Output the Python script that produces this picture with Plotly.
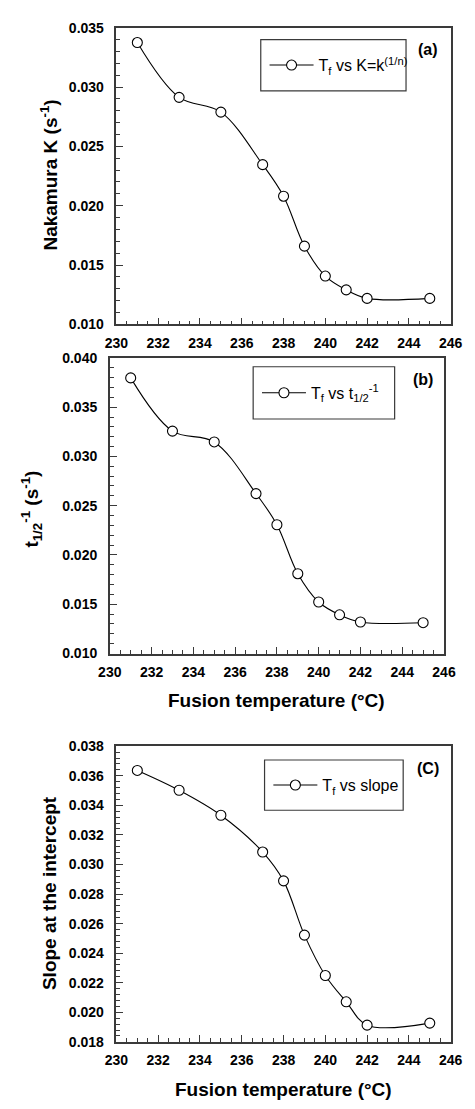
import plotly.graph_objects as go

W, H = 475, 1109

# Fusion temperatures (°C) shared by all three panels
temp_c = [231, 233, 235, 237, 238, 239, 240, 241, 242, 245]

# (a) Nakamura rate constant K = k^(1/n), s^-1
nakamura_k = [0.03375, 0.02913, 0.02789, 0.02346, 0.02080,
              0.01659, 0.01407, 0.01291, 0.01219, 0.01219]

# (b) inverse half-time of crystallization, s^-1
inv_half_time = [0.03797, 0.03257, 0.03147, 0.02623, 0.02307,
                 0.01810, 0.01523, 0.01393, 0.01320, 0.01313]

# (c) slope at the intercept
slope_intercept = [0.03636, 0.03502, 0.03333, 0.03084, 0.02889,
                   0.02522, 0.02249, 0.02071, 0.01913, 0.01927]

x_tick_vals = [230, 232, 234, 236, 238, 240, 242, 244, 246]

FONT = "Liberation Sans, Arial, Helvetica, sans-serif"
AXIS_COLOR = "#3a3a3a"


def px_x(x):
    return x / W


def px_y(y):
    return 1 - y / H


# plot-area boxes in pixels: (left, top, right, bottom)
panels = [
    dict(box=(110, 20, 462, 321), y=nakamura_k, yr=[0.010, 0.035], dt=0.005, mdt=0.001,
         name="T<sub>f</sub> vs K=k<sup>(1/n)</sup>",
         legend_box=(262, 32, 415, 84), tag="(a)", tag_pos=(438, 42),
         ytitle="Nakamura K (s<sup>-1</sup>)", ytitle_pos=(39, 170), xtitle_pos=None),
    dict(box=(103, 355, 455, 655), y=inv_half_time, yr=[0.010, 0.040], dt=0.005, mdt=0.001,
         name="T<sub>f</sub> vs t<sub>1/2</sub><sup>-1</sup>",
         legend_box=(254, 364, 403, 417), tag="(b)", tag_pos=(433, 377),
         ytitle="t<sub>1/2</sub><sup>-1</sup> (s<sup>-1</sup>)", ytitle_pos=(21, 508),
         xtitle_pos=(279, 703)),
    dict(box=(110, 749, 462, 1049), y=slope_intercept, yr=[0.018, 0.038], dt=0.002, mdt=0.0004,
         name="T<sub>f</sub> vs slope",
         legend_box=(266, 763, 412, 814), tag="(C)", tag_pos=(438, 772),
         ytitle="Slope at the intercept", ytitle_pos=(39, 898),
         xtitle_pos=(286, 1097)),
]

fig = go.Figure()
layout = dict(
    width=W, height=H,
    margin=dict(l=0, r=0, t=0, b=0),
    paper_bgcolor="white", plot_bgcolor="white",
    font=dict(family=FONT, color="black"),
    showlegend=True,
)
annotations = []
shapes = []

for i, p in enumerate(panels, start=1):
    left, top, right, bottom = p["box"]
    xa = "x" if i == 1 else f"x{i}"
    ya = "y" if i == 1 else f"y{i}"
    leg = "legend" if i == 1 else f"legend{i}"

    fig.add_trace(go.Scatter(
        x=temp_c, y=p["y"], xaxis=xa, yaxis=ya, legend=leg,
        mode="lines+markers", name=p["name"],
        line=dict(color="black", width=1.1, shape="spline", smoothing=1.0),
        marker=dict(symbol="circle", size=10, color="white",
                    line=dict(color="black", width=1.1)),
        cliponaxis=False,
    ))

    axis_common = dict(
        showline=True, linecolor=AXIS_COLOR, linewidth=1.5, mirror=True,
        showgrid=False, zeroline=False,
        ticks="inside", ticklen=7, tickwidth=1.2, tickcolor=AXIS_COLOR,
        tickfont=dict(family=FONT, size=14, color="black", weight="bold"),
    )
    layout["xaxis" if i == 1 else f"xaxis{i}"] = dict(
        axis_common,
        domain=[px_x(left), px_x(right)], anchor=ya,
        range=[230, 246], tickvals=x_tick_vals,
        ticklabelstandoff=5,
        minor=dict(dtick=0.5, ticks="inside", ticklen=4, tickwidth=1, tickcolor=AXIS_COLOR),
    )
    layout["yaxis" if i == 1 else f"yaxis{i}"] = dict(
        axis_common,
        domain=[px_y(bottom), px_y(top)], anchor=xa,
        range=p["yr"], dtick=p["dt"], tick0=p["yr"][0], tickformat=".3f",
        ticklabelstandoff=8,
        minor=dict(dtick=p["mdt"], tick0=p["yr"][0], ticks="inside", ticklen=4,
                   tickwidth=1, tickcolor=AXIS_COLOR),
    )

    lx0, ly0, lx1, ly1 = p["legend_box"]
    layout[leg] = dict(
        x=px_x(lx0 + 4), y=px_y((ly0 + ly1) / 2), xanchor="left", yanchor="middle",
        bgcolor="rgba(0,0,0,0)", borderwidth=0,
        font=dict(family=FONT, size=16, color="black"),
        itemwidth=44,
    )
    shapes.append(dict(type="rect", xref="paper", yref="paper",
                       x0=px_x(lx0), x1=px_x(lx1), y0=px_y(ly1), y1=px_y(ly0),
                       line=dict(color=AXIS_COLOR, width=1.2), fillcolor="rgba(0,0,0,0)"))

    tx, ty = p["tag_pos"]
    annotations.append(dict(text=f"<b>{p['tag']}</b>", x=px_x(tx), y=px_y(ty),
                            xref="paper", yref="paper", showarrow=False,
                            xanchor="center", yanchor="middle",
                            font=dict(family=FONT, size=16, color="black")))

    yx, yy = p["ytitle_pos"]
    annotations.append(dict(text=f"<b>{p['ytitle']}</b>", x=px_x(yx), y=px_y(yy),
                            xref="paper", yref="paper", showarrow=False, textangle=-90,
                            xanchor="center", yanchor="middle",
                            font=dict(family=FONT, size=19, color="black")))

    if p["xtitle_pos"]:
        xx, xy = p["xtitle_pos"]
        annotations.append(dict(text="<b>Fusion temperature (°C)</b>", x=px_x(xx), y=px_y(xy),
                                xref="paper", yref="paper", showarrow=False,
                                xanchor="center", yanchor="middle",
                                font=dict(family=FONT, size=19, color="black")))

layout["annotations"] = annotations
layout["shapes"] = shapes
fig.update_layout(**layout)

fig.write_html("out.html")
